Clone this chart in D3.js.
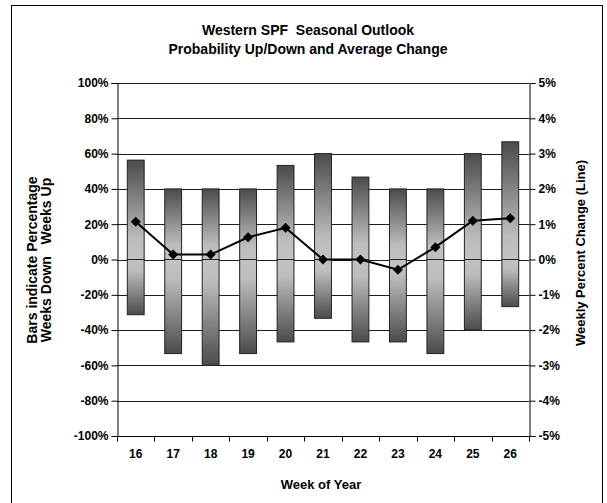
<!DOCTYPE html>
<html>
<head>
<meta charset="utf-8">
<script src="https://cdn.jsdelivr.net/npm/d3@7"></script>
<style>
  html, body { margin: 0; padding: 0; background: #fff; }
  svg { display: block; }
  text { font-family: "Liberation Sans", Arial, sans-serif; font-weight: bold; fill: #000; }
</style>
</head>
<body>
<svg id="chart" width="607" height="503"></svg>
<script>
// Week numbers along the x axis
const weeks = ["16", "17", "18", "19", "20", "21", "22", "23", "24", "25", "26"];
// Share of years the week closed up (positive) and down (negative), in percent
const pctUp   = [56.3, 40, 40, 40, 53.3, 60, 46.7, 40, 40, 60, 66.7];
const pctDown = [-31.3, -53.3, -60, -53.3, -46.7, -33.3, -46.7, -46.7, -53.3, -40, -26.7];
// Average weekly price change, in percent (right axis)
const avgChange = [1.07, 0.14, 0.14, 0.63, 0.9, 0.0, 0.0, -0.29, 0.35, 1.1, 1.17];
// Axis tick values
const leftTicks  = [-100, -80, -60, -40, -20, 0, 20, 40, 60, 80, 100];
const rightTicks = [-5, -4, -3, -2, -1, 0, 1, 2, 3, 4, 5];

const svg = d3.select("#chart");
const plot = { left: 117, right: 529, top: 83, bottom: 436 };

const x = d3.scaleBand().domain(weeks).range([plot.left, plot.right]).padding(0);
const yL = d3.scaleLinear().domain([-100, 100]).range([plot.bottom, plot.top]);
const yR = d3.scaleLinear().domain([-5, 5]).range([plot.bottom, plot.top]);

// Outer frame
svg.append("rect")
  .attr("x", 11.5).attr("y", 5.5).attr("width", 591).attr("height", 520)
  .attr("fill", "#fff").attr("stroke", "#000").attr("stroke-width", 1);

// Gradients: dark at the outer end of each bar, light near zero
const defs = svg.append("defs");
const gUp = defs.append("linearGradient").attr("id", "gradUp")
  .attr("x1", 0).attr("y1", 0).attr("x2", 0).attr("y2", 1);
gUp.append("stop").attr("offset", "0%").attr("stop-color", "#4b4b4b");
gUp.append("stop").attr("offset", "80%").attr("stop-color", "#bdbdbd");
gUp.append("stop").attr("offset", "100%").attr("stop-color", "#c2c2c2");
const gDown = defs.append("linearGradient").attr("id", "gradDown")
  .attr("x1", 0).attr("y1", 0).attr("x2", 0).attr("y2", 1);
gDown.append("stop").attr("offset", "0%").attr("stop-color", "#c2c2c2");
gDown.append("stop").attr("offset", "20%").attr("stop-color", "#bdbdbd");
gDown.append("stop").attr("offset", "100%").attr("stop-color", "#4b4b4b");

// Horizontal gridlines
svg.append("g").selectAll("line").data(leftTicks).join("line")
  .attr("x1", plot.left).attr("x2", plot.right)
  .attr("y1", d => Math.round(yL(d)) + 0.5).attr("y2", d => Math.round(yL(d)) + 0.5)
  .attr("stroke", "#1e1e1e").attr("stroke-width", 1);

// Bars
const barW = x.bandwidth() * 0.45;
const bars = svg.append("g");
bars.selectAll("rect.up").data(weeks).join("rect")
  .attr("class", "up")
  .attr("x", d => x(d) + (x.bandwidth() - barW) / 2)
  .attr("width", barW)
  .attr("y", (d, i) => yL(pctUp[i]))
  .attr("height", (d, i) => yL(0) - yL(pctUp[i]))
  .attr("fill", "url(#gradUp)").attr("stroke", "#222").attr("stroke-width", 1);
bars.selectAll("rect.down").data(weeks).join("rect")
  .attr("class", "down")
  .attr("x", d => x(d) + (x.bandwidth() - barW) / 2)
  .attr("width", barW)
  .attr("y", yL(0))
  .attr("height", (d, i) => yL(pctDown[i]) - yL(0))
  .attr("fill", "url(#gradDown)").attr("stroke", "#222").attr("stroke-width", 1);

// Axes
const pct = d => d + "%";
const axL = svg.append("g").attr("transform", `translate(${plot.left + 0.5},0)`)
  .call(d3.axisLeft(yL).tickValues(leftTicks).tickFormat(pct).tickSize(6).tickPadding(3));
const axR = svg.append("g").attr("transform", `translate(${plot.right + 0.5},0)`)
  .call(d3.axisRight(yR).tickValues(rightTicks).tickFormat(pct).tickSize(6).tickPadding(3));
const axB = svg.append("g").attr("transform", `translate(0,${plot.bottom + 0.5})`)
  .call(d3.axisBottom(x).tickSize(0).tickPadding(13));
// tick marks at category boundaries
axB.selectAll(".bound").data(weeks.concat(["end"])).join("line")
  .attr("class", "bound")
  .attr("x1", (d, i) => Math.round(plot.left + i * x.bandwidth()) + 0.5)
  .attr("x2", (d, i) => Math.round(plot.left + i * x.bandwidth()) + 0.5)
  .attr("y1", 0).attr("y2", 5)
  .attr("stroke", "#000");
[axL, axR, axB].forEach(a => {
  a.select(".domain").attr("stroke", "#000").attr("stroke-width", 1);
  a.selectAll(".tick line").attr("stroke", "#000");
  a.selectAll("text").attr("font-size", 12).attr("font-family", null);
});
axB.select(".domain").attr("d", `M${plot.left},0H${plot.right + 0.5}`);

// Average change line with diamond markers
const line = d3.line().x((d, i) => x(weeks[i]) + x.bandwidth() / 2).y(d => yR(d));
svg.append("path").datum(avgChange)
  .attr("d", line).attr("fill", "none").attr("stroke", "#000").attr("stroke-width", 2);
svg.append("g").selectAll("path").data(avgChange).join("path")
  .attr("transform", (d, i) => `translate(${x(weeks[i]) + x.bandwidth() / 2},${yR(d)})`)
  .attr("d", "M0,-5L5,0L0,5L-5,0Z")
  .attr("fill", "#000");

// Titles
svg.append("text").attr("x", 308).attr("y", 35).attr("text-anchor", "middle")
  .attr("font-size", 14).text("Western SPF  Seasonal Outlook").style("white-space", "pre");
svg.append("text").attr("x", 308).attr("y", 54).attr("text-anchor", "middle")
  .attr("font-size", 14).text("Probability Up/Down and Average Change");

svg.append("text").attr("x", 321).attr("y", 489).attr("text-anchor", "middle")
  .attr("font-size", 13).text("Week of Year");

const lt = svg.append("text").attr("transform", "translate(37,260) rotate(-90)")
  .attr("text-anchor", "middle").attr("font-size", 14).style("white-space", "pre");
lt.append("tspan").attr("x", 0).attr("y", 0).text("Bars indicate Percentage");
lt.append("tspan").attr("x", 0).attr("y", 14).text("Weeks Down   Weeks Up");

svg.append("text").attr("transform", "translate(585,253) rotate(-90)")
  .attr("text-anchor", "middle").attr("font-size", 13).text("Weekly Percent Change (Line)");
</script>
</body>
</html>
